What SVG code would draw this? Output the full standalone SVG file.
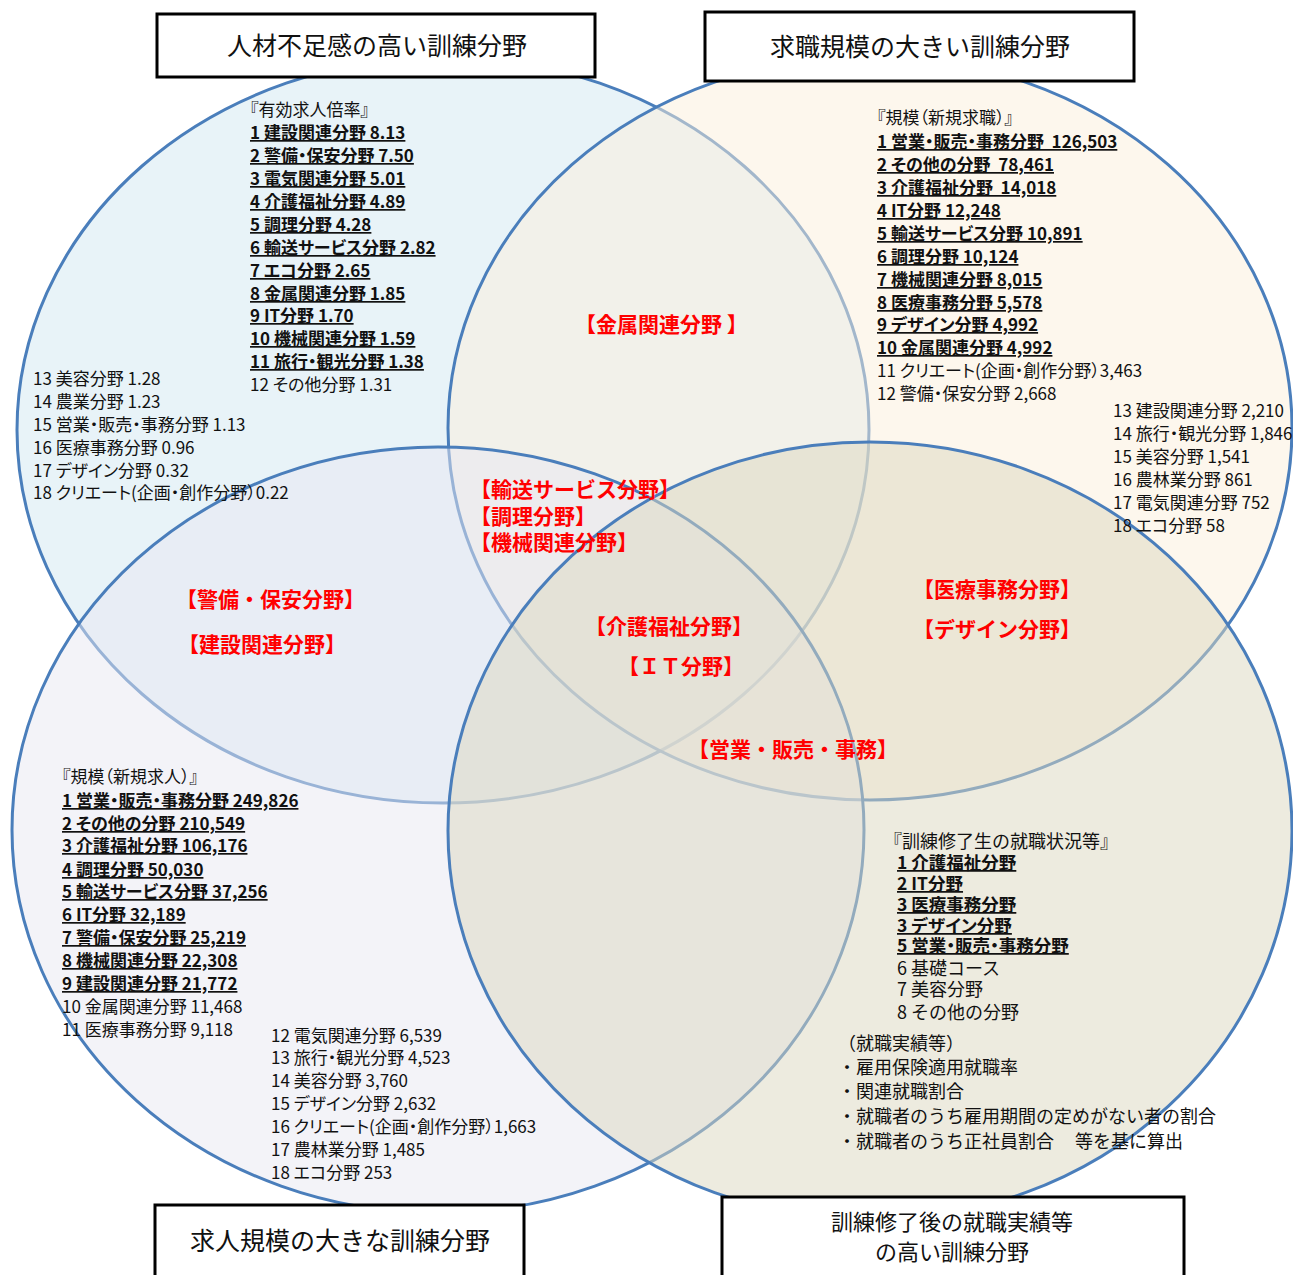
<svg xmlns="http://www.w3.org/2000/svg" width="1293" height="1275" viewBox="0 0 1293 1275">
<style>
text{font-family:"Noto Sans CJK JP","Noto Sans CJK SC",sans-serif;fill:#111;white-space:pre}
.l,.b,.mb{font-feature-settings:"palt"}
.l{font-size:17px}
.b{font-size:17px;font-weight:bold;text-decoration:underline}
.m{font-size:18px}
.mb{font-size:17.5px;font-weight:bold;text-decoration:underline}
.r{font-size:21px;font-weight:bold;fill:#ff0000}
.t{font-size:25px;text-anchor:middle}
.t2{font-size:22px;text-anchor:middle}
.e{stroke:#4a7ebb;stroke-width:3}
.box{fill:#fff;stroke:#000;stroke-width:3}
</style>
<rect width="1293" height="1275" fill="#fff"/>
<g id="circles">
<ellipse id="c1" class="e" cx="443" cy="430" rx="426" ry="373" fill="#d2e7f1" fill-opacity="0.5"/>
<ellipse id="c2" class="e" cx="870" cy="428" rx="422" ry="372" fill="#fbefdc" fill-opacity="0.5"/>
<ellipse id="c3" class="e" cx="438" cy="830" rx="426" ry="383" fill="#e8e8f2" fill-opacity="0.5"/>
<ellipse id="c4" class="e" cx="870" cy="831" rx="422" ry="389" fill="#dcd7bf" fill-opacity="0.5"/>
</g>
<g id="list-topleft">
<text class="l" x="250" y="116">『有効求人倍率』</text>
<text class="b" x="250" y="139">1 建設関連分野 8.13</text>
<text class="b" x="250" y="162">2 警備・保安分野 7.50</text>
<text class="b" x="250" y="185">3 電気関連分野 5.01</text>
<text class="b" x="250" y="208">4 介護福祉分野 4.89</text>
<text class="b" x="250" y="231">5 調理分野 4.28</text>
<text class="b" x="250" y="254">6 輸送サービス分野 2.82</text>
<text class="b" x="250" y="277">7 エコ分野 2.65</text>
<text class="b" x="250" y="300">8 金属関連分野 1.85</text>
<text class="b" x="250" y="322">9 IT分野 1.70</text>
<text class="b" x="250" y="345">10 機械関連分野 1.59</text>
<text class="b" x="250" y="368">11 旅行・観光分野 1.38</text>
<text class="l" x="250" y="391">12 その他分野 1.31</text>
<text class="l" x="33" y="385">13 美容分野 1.28</text>
<text class="l" x="33" y="408">14 農業分野 1.23</text>
<text class="l" x="33" y="431">15 営業・販売・事務分野 1.13</text>
<text class="l" x="33" y="454">16 医療事務分野 0.96</text>
<text class="l" x="33" y="477">17 デザイン分野 0.32</text>
<text class="l" x="33" y="499">18 クリエート(企画・創作分野）0.22</text>
</g>
<g id="list-topright">
<text class="l" x="877" y="124">『規模（新規求職）』</text>
<text class="b" x="877" y="148">1 営業・販売・事務分野  126,503</text>
<text class="b" x="877" y="171">2 その他の分野  78,461</text>
<text class="b" x="877" y="194">3 介護福祉分野  14,018</text>
<text class="b" x="877" y="217">4 IT分野 12,248</text>
<text class="b" x="877" y="240">5 輸送サービス分野 10,891</text>
<text class="b" x="877" y="263">6 調理分野 10,124</text>
<text class="b" x="877" y="286">7 機械関連分野 8,015</text>
<text class="b" x="877" y="309">8 医療事務分野 5,578</text>
<text class="b" x="877" y="331">9 デザイン分野 4,992</text>
<text class="b" x="877" y="354">10 金属関連分野 4,992</text>
<text class="l" x="877" y="377">11 クリエート(企画・創作分野）3,463</text>
<text class="l" x="877" y="400">12 警備・保安分野 2,668</text>
<text class="l" x="1113" y="417">13 建設関連分野 2,210</text>
<text class="l" x="1113" y="440">14 旅行・観光分野 1,846</text>
<text class="l" x="1113" y="463">15 美容分野 1,541</text>
<text class="l" x="1113" y="486">16 農林業分野 861</text>
<text class="l" x="1113" y="509">17 電気関連分野 752</text>
<text class="l" x="1113" y="532">18 エコ分野 58</text>
</g>
<g id="list-bottomleft">
<text class="l" x="62" y="783">『規模（新規求人）』</text>
<text class="b" x="62" y="807">1 営業・販売・事務分野 249,826</text>
<text class="b" x="62" y="830">2 その他の分野 210,549</text>
<text class="b" x="62" y="852">3 介護福祉分野 106,176</text>
<text class="b" x="62" y="876">4 調理分野 50,030</text>
<text class="b" x="62" y="898">5 輸送サービス分野 37,256</text>
<text class="b" x="62" y="921">6 IT分野 32,189</text>
<text class="b" x="62" y="944">7 警備・保安分野 25,219</text>
<text class="b" x="62" y="967">8 機械関連分野 22,308</text>
<text class="b" x="62" y="990">9 建設関連分野 21,772</text>
<text class="l" x="62" y="1013">10 金属関連分野 11,468</text>
<text class="l" x="62" y="1036">11 医療事務分野 9,118</text>
<text class="l" x="271" y="1042">12 電気関連分野 6,539</text>
<text class="l" x="271" y="1064">13 旅行・観光分野 4,523</text>
<text class="l" x="271" y="1087">14 美容分野 3,760</text>
<text class="l" x="271" y="1110">15 デザイン分野 2,632</text>
<text class="l" x="271" y="1133">16 クリエート(企画・創作分野）1,663</text>
<text class="l" x="271" y="1156">17 農林業分野 1,485</text>
<text class="l" x="271" y="1179">18 エコ分野 253</text>
</g>
<g id="list-bottomright">
<text class="m" x="884" y="848">『訓練修了生の就職状況等』</text>
<text class="mb" x="897" y="869">1 介護福祉分野</text>
<text class="mb" x="897" y="890">2 IT分野</text>
<text class="mb" x="897" y="911">3 医療事務分野</text>
<text class="mb" x="897" y="932">3 デザイン分野</text>
<text class="mb" x="897" y="952">5 営業・販売・事務分野</text>
<text class="m" x="897" y="975">6 基礎コース</text>
<text class="m" x="897" y="996">7 美容分野</text>
<text class="m" x="897" y="1019">8 その他の分野</text>
<text class="m" x="838" y="1050">（就職実績等）</text>
<text class="m" x="838" y="1074">・雇用保険適用就職率</text>
<text class="m" x="838" y="1098">・関連就職割合</text>
<text class="m" x="838" y="1123">・就職者のうち雇用期間の定めがない者の割合</text>
<text class="m" x="838" y="1148">・就職者のうち正社員割合</text>
<text class="m" x="1075" y="1148">等を基に算出</text>
</g>
<g id="overlap-labels">
<text class="r" x="575" y="332">【金属関連分野 】</text>
<text class="r" x="470" y="497">【輸送サービス分野】</text>
<text class="r" x="470" y="524">【調理分野】</text>
<text class="r" x="470" y="550">【機械関連分野】</text>
<text class="r" x="585" y="634">【介護福祉分野】</text>
<text class="r" x="618" y="674">【ＩＴ分野】</text>
<text class="r" x="688" y="757">【営業・販売・事務】</text>
<text class="r" x="176" y="607">【警備・保安分野】</text>
<text class="r" x="178" y="652">【建設関連分野】</text>
<text class="r" x="913" y="597">【医療事務分野】</text>
<text class="r" x="913" y="637">【デザイン分野】</text>
</g>
<g id="box1">
<rect class="box" x="157" y="14" width="438" height="63"/>
<text class="t" x="377" y="55">人材不足感の高い訓練分野</text>
</g>
<g id="box2">
<rect class="box" x="705" y="12" width="429" height="69"/>
<text class="t" x="920" y="56">求職規模の大きい訓練分野</text>
</g>
<g id="box3">
<rect class="box" x="155" y="1205" width="369" height="80"/>
<text class="t" x="340" y="1250">求人規模の大きな訓練分野</text>
</g>
<g id="box4">
<rect class="box" x="722" y="1197" width="462" height="88"/>
<text class="t2" x="952" y="1230">訓練修了後の就職実績等</text>
<text class="t2" x="952" y="1260">の高い訓練分野</text>
</g>
</svg>
